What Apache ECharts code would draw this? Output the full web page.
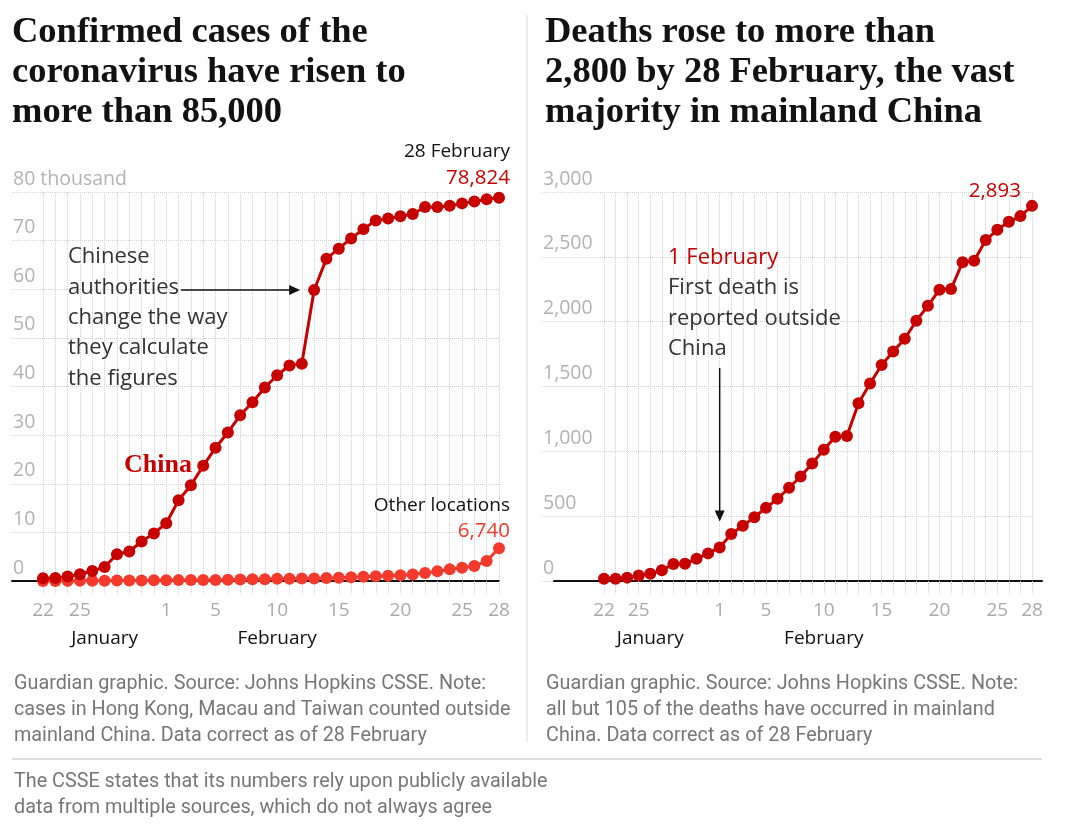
<!DOCTYPE html>
<html><head><meta charset="utf-8">
<script src="https://cdn.jsdelivr.net/npm/echarts@6/dist/echarts.min.js"></script>
<style>html,body{margin:0;padding:0;background:#fff}#c{width:1080px;height:830px}</style>
</head><body><div id="c"></div>
<script>
// ---------- data ----------
const dates = ['Jan 22','Jan 23','Jan 24','Jan 25','Jan 26','Jan 27','Jan 28','Jan 29','Jan 30','Jan 31',
  'Feb 1','Feb 2','Feb 3','Feb 4','Feb 5','Feb 6','Feb 7','Feb 8','Feb 9','Feb 10',
  'Feb 11','Feb 12','Feb 13','Feb 14','Feb 15','Feb 16','Feb 17','Feb 18','Feb 19','Feb 20',
  'Feb 21','Feb 22','Feb 23','Feb 24','Feb 25','Feb 26','Feb 27','Feb 28'];
const tickDates = ['Jan 22','Jan 25','Feb 1','Feb 5','Feb 10','Feb 15','Feb 20','Feb 25','Feb 28'];
const tickTexts = ['22','25','1','5','10','15','20','25','28'];
const casesChina = [547,639,916,1399,2062,2863,5494,6070,8124,9783,
  11871,16607,19693,23680,27409,30553,34075,36778,39790,42306,
  44327,44699,59832,66292,68347,70446,72364,74139,74546,74999,
  75472,76922,76938,77152,77660,78065,78498,78824];
const casesOther = [8,15,25,35,56,64,84,96,110,144,
  167,180,188,212,226,241,316,342,360,456,
  475,522,536,593,683,778,894,997,1093,1198,
  1347,1650,2020,2409,2746,3100,4100,6740];
const deaths = [17,18,26,42,56,82,131,133,171,213,
  259,362,426,492,564,634,719,806,906,1013,
  1113,1118,1371,1523,1666,1770,1868,2007,2122,2247,
  2251,2458,2469,2629,2708,2770,2814,2893];
const casesTicks = [0,10000,20000,30000,40000,50000,60000,70000,80000];
const deathTicks = [0,500,1000,1500,2000,2500,3000];

// ---------- styles ----------
const RED = '#c70000', BRIGHT = '#f4392d', DARK = '#121212', TXT = '#333333';
const SANS = '"Open Sans", "Noto Sans", sans-serif';
const FOOT = 'Roboto, "Open Sans", sans-serif';
const SERIF = '"Liberation Serif", "DejaVu Serif", serif';
const GRID_GREY = '#d2d2d2';
const TOP = 192, H = 389;

const chart = echarts.init(document.getElementById('c'), null, {renderer: 'canvas'});

function hAxisY(gi, max, interval, fmt) {
  return {gridIndex: gi, type: 'value', min: 0, max: max, interval: interval,
    axisLine: {show: false}, axisTick: {show: false},
    splitLine: {show: true, lineStyle: {color: GRID_GREY, type: 'dotted', width: 1}},
    axisLabel: {inside: true, margin: 1, verticalAlign: 'bottom', align: 'left',
      padding: [0, 0, 3, 0], color: '#b3b3b3', fontFamily: SANS, fontSize: 19.5, formatter: fmt}};
}
function hiddenY(gi, max) { return {gridIndex: gi, type: 'value', min: 0, max: max, show: false, splitLine: {show: false}}; }
function baseX(gi) {
  return {gridIndex: gi, type: 'value', min: 0, max: 1, axisLine: {show: true, onZero: false, lineStyle: {color: DARK, width: 2}},
    axisTick: {show: false}, axisLabel: {show: false}, splitLine: {show: false}};
}
function plainX(gi) { return {gridIndex: gi, type: 'value', min: 0, max: 1, show: false, splitLine: {show: false}}; }
function dayX(gi) {
  return {gridIndex: gi, type: 'category', data: dates, boundaryGap: false,
    axisLine: {show: false},
    axisTick: {show: true, interval: 0, length: 14, lineStyle: {color: GRID_GREY, type: 'dotted'}},
    splitLine: {show: true, interval: 0, lineStyle: {color: GRID_GREY, type: 'dotted'}},
    axisLabel: {interval: 0, margin: 20, color: '#aaaaaa', fontFamily: SANS, fontSize: 19,
      formatter: function (v) { const k = tickDates.indexOf(v); return k >= 0 ? tickTexts[k] : ''; }}};
}
function lineSeries(name, xi, yi, data, color, z) {
  return {name: name, type: 'line', xAxisIndex: xi, yAxisIndex: yi, data: data, z: z,
    symbol: 'circle', symbolSize: 12, showSymbol: true,
    itemStyle: {color: color}, lineStyle: {color: color, width: 3}};
}

const option = {
  animation: false,
  backgroundColor: '#ffffff',
  title: [
    {text: 'Confirmed cases of the\ncoronavirus have risen to\nmore than 85,000', left: 12, top: 13, padding: 0,
      textStyle: {fontFamily: SERIF, fontWeight: 'bold', fontSize: 36.5, lineHeight: 40, color: DARK}},
    {text: 'Deaths rose to more than\n2,800 by 28 February, the vast\nmajority in mainland China', left: 545, top: 13, padding: 0,
      textStyle: {fontFamily: SERIF, fontWeight: 'bold', fontSize: 36.5, lineHeight: 40, color: DARK}}
  ],
  grid: [
    {left: 12, top: TOP, width: 487, height: H},   // 0 left horizontal grid + baseline
    {left: 43, top: TOP, width: 456, height: H},   // 1 left data
    {left: 542, top: TOP, width: 490, height: H},  // 2 right horizontal grid
    {left: 604, top: TOP, width: 428, height: H},  // 3 right data
    {left: 554, top: TOP, width: 488, height: H}   // 4 right baseline
  ],
  xAxis: [baseX(0), dayX(1), plainX(2), dayX(3), baseX(4)],
  yAxis: [
    hAxisY(0, 80000, 10000, function (v) { return v === 80000 ? '80 thousand' : String(v / 1000); }),
    hiddenY(1, 80000),
    hAxisY(2, 3000, 500, function (v) { return v.toLocaleString('en-US'); }),
    hiddenY(3, 3000),
    hiddenY(4, 3000)
  ],
  series: [
    lineSeries('Other locations', 1, 1, casesOther, BRIGHT, 3),
    lineSeries('China', 1, 1, casesChina, RED, 4),
    lineSeries('Deaths', 3, 3, deaths, RED, 4)
  ]
};
chart.setOption(option);

// ---------- annotations positioned from data coordinates ----------
const L = function (i, v) { return chart.convertToPixel({xAxisIndex: 1, yAxisIndex: 1}, [i, v]); };
const R = function (i, v) { return chart.convertToPixel({xAxisIndex: 3, yAxisIndex: 3}, [i, v]); };
const n = dates.length - 1;
const lastChina = L(n, casesChina[n]);
const lastOther = L(n, casesOther[n]);
const lastDeath = R(n, deaths[n]);
const iJump = dates.indexOf('Feb 13');
const jump = L(iJump, casesChina[iJump]);
const iFeb1 = dates.indexOf('Feb 1');
const feb1 = R(iFeb1, deaths[iFeb1]);
const monthL = [L(4.65, 0)[0], L(19, 0)[0]];
const monthR = [R(4.3, 0)[0], R(18.8, 0)[0]];

function txt(x, y, text, o) {
  return {type: 'text', silent: true, z: 50, style: Object.assign({x: x, y: y, text: text, fill: TXT,
    fontFamily: SANS, fontSize: 22, lineHeight: 30.3, align: 'left', verticalAlign: 'middle'}, o || {})};
}
function arrowRight(x1, x2, y) {
  return [
    {type: 'line', silent: true, z: 50, shape: {x1: x1, y1: y, x2: x2 - 9, y2: y}, style: {stroke: DARK, lineWidth: 1.5}},
    {type: 'polygon', silent: true, z: 50, shape: {points: [[x2, y], [x2 - 11, y - 5], [x2 - 11, y + 5]]}, style: {fill: DARK}}
  ];
}
function arrowDown(x, y1, y2) {
  return [
    {type: 'line', silent: true, z: 50, shape: {x1: x, y1: y1, x2: x, y2: y2 - 9}, style: {stroke: DARK, lineWidth: 1.5}},
    {type: 'polygon', silent: true, z: 50, shape: {points: [[x, y2], [x - 5, y2 - 11], [x + 5, y2 - 11]]}, style: {fill: DARK}}
  ];
}

const FOOTSTYLE = {verticalAlign: 'top', fontFamily: FOOT, fontSize: 19.8, lineHeight: 26, fill: '#777777'};
const graphics = [
  // dividers
  {type: 'line', silent: true, shape: {x1: 527, y1: 15, x2: 527, y2: 742}, style: {stroke: '#dddddd', lineWidth: 1}},
  {type: 'line', silent: true, shape: {x1: 12, y1: 759, x2: 1042, y2: 759}, style: {stroke: '#dddddd', lineWidth: 2}},
  // left panel labels
  txt(lastChina[0] + 11, lastChina[1] - 46, '28 February', {align: 'right', fontSize: 19, fill: DARK}),
  txt(lastChina[0] + 11, lastChina[1] - 20, '78,824', {align: 'right', fontSize: 20.5, fill: RED}),
  txt(lastOther[0] + 11, lastOther[1] - 43, 'Other locations', {align: 'right', fontSize: 19, fill: DARK}),
  txt(lastOther[0] + 11, lastOther[1] - 17, '6,740', {align: 'right', fontSize: 20.5, fill: BRIGHT}),
  txt(68, 242, 'Chinese\nauthorities\nchange the way\nthey calculate\nthe figures', {verticalAlign: 'top'}),
  txt(124, 465, 'China', {fontFamily: SERIF, fontWeight: 'bold', fontSize: 26, fill: RED}),
  txt(monthL[0], 639, 'January', {align: 'center', fontSize: 19, fill: DARK}),
  txt(monthL[1], 639, 'February', {align: 'center', fontSize: 19, fill: DARK}),
  // right panel labels
  txt(lastDeath[0] - 11, lastDeath[1] - 15, '2,893', {align: 'right', fontSize: 20.5, fill: RED}),
  txt(668, 258, '1 February', {fill: RED}),
  txt(668, 273, 'First death is\nreported outside\nChina', {verticalAlign: 'top'}),
  txt(monthR[0], 639, 'January', {align: 'center', fontSize: 19, fill: DARK}),
  txt(monthR[1], 639, 'February', {align: 'center', fontSize: 19, fill: DARK}),
  // footers
  txt(14, 671, 'Guardian graphic. Source: Johns Hopkins CSSE. Note:\ncases in Hong Kong, Macau and Taiwan counted outside\nmainland China. Data correct as of 28 February', FOOTSTYLE),
  txt(546, 671, 'Guardian graphic. Source: Johns Hopkins CSSE. Note:\nall but 105 of the deaths have occurred in mainland\nChina. Data correct as of 28 February', FOOTSTYLE),
  txt(14, 769, 'The CSSE states that its numbers rely upon publicly available\ndata from multiple sources, which do not always agree', FOOTSTYLE)
].concat(arrowRight(181, jump[0] - 14, jump[1]), arrowDown(feb1[0], 368, feb1[1] - 26));

chart.setOption({graphic: graphics});
</script>
</body></html>
